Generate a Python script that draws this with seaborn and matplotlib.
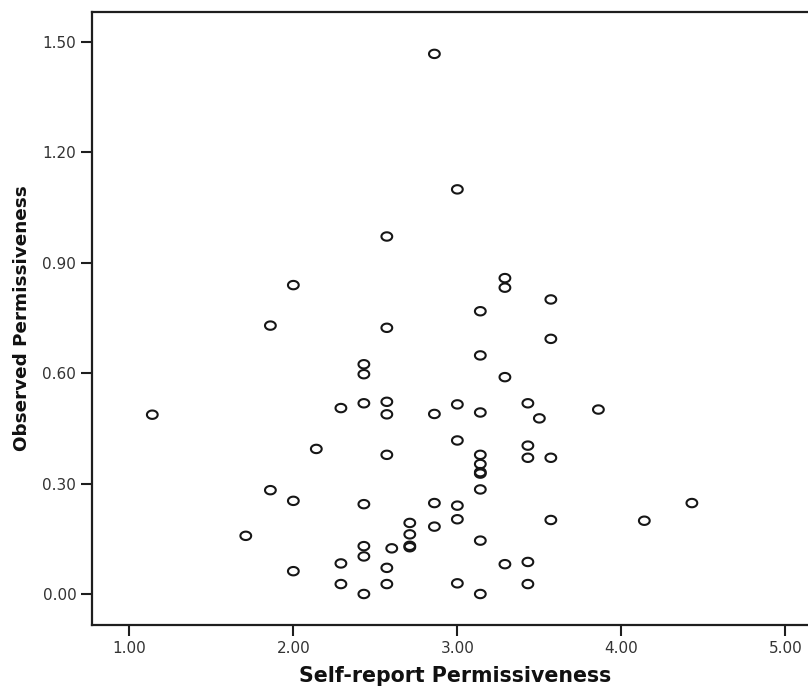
import numpy as np
import pandas as pd
import matplotlib
matplotlib.use("Agg")
import matplotlib.pyplot as plt
from matplotlib.path import Path
from matplotlib.ticker import FormatStrFormatter
import seaborn as sns

# Self-report vs observed permissiveness, one point per respondent
self_report = [
    2.86, 3.00, 2.57, 3.29, 3.29, 2.00, 3.57, 3.14, 1.86, 2.57,
    3.57, 3.14, 2.43, 2.43, 3.29, 1.14, 2.29, 2.43, 2.57, 2.57,
    2.86, 3.00, 3.14, 3.43, 3.50, 3.86, 2.14, 2.57, 3.00, 3.14,
    3.14, 3.14, 3.14, 3.14, 3.43, 3.43, 3.57, 1.86, 2.00, 2.43,
    2.86, 3.00, 3.00, 2.86, 2.71, 2.71, 2.71, 2.71, 2.60, 2.43,
    2.43, 3.57, 4.14, 4.43, 3.14, 1.71, 2.00, 2.29, 2.29, 2.43,
    2.57, 2.57, 3.00, 3.14, 3.29, 3.43, 3.43,
]
observed = [
    1.467, 1.099, 0.971, 0.858, 0.832, 0.839, 0.800, 0.768, 0.729, 0.723,
    0.693, 0.648, 0.624, 0.597, 0.589, 0.487, 0.505, 0.518, 0.522, 0.488,
    0.489, 0.515, 0.493, 0.518, 0.477, 0.501, 0.394, 0.378, 0.417, 0.378,
    0.353, 0.331, 0.327, 0.284, 0.403, 0.370, 0.370, 0.282, 0.253, 0.244,
    0.247, 0.240, 0.203, 0.183, 0.193, 0.162, 0.131, 0.127, 0.124, 0.130,
    0.102, 0.201, 0.199, 0.247, 0.145, 0.158, 0.062, 0.083, 0.027, 0.000,
    0.071, 0.027, 0.029, 0.000, 0.081, 0.087, 0.027,
]
x_ticks = [1.0, 2.0, 3.0, 4.0, 5.0]
y_ticks = [0.0, 0.3, 0.6, 0.9, 1.2, 1.5]

df = pd.DataFrame({"Self-report Permissiveness": self_report,
                   "Observed Permissiveness": observed})

sns.set_style("ticks")
plt.rcParams["font.family"] = ["DejaVu Sans"]

fig = plt.figure(figsize=(8.08, 6.86), dpi=100)
ax = fig.add_axes([0.1142, 0.0885, 0.8858, 0.8944])

# slightly flattened open ring marker
t = np.linspace(0, 2 * np.pi, 60)
ring = Path(np.column_stack([np.cos(t), 0.78 * np.sin(t)]), closed=True)

sns.scatterplot(data=df, x="Self-report Permissiveness", y="Observed Permissiveness",
                marker=ring, s=60, facecolor="none", edgecolor="#161616",
                linewidth=1.5, ax=ax, zorder=3)

ax.set_xlim(0.774, 5.138)
ax.set_ylim(-0.085, 1.5815)
ax.set_xticks(x_ticks)
ax.set_yticks(y_ticks)
ax.xaxis.set_major_formatter(FormatStrFormatter("%.2f"))
ax.yaxis.set_major_formatter(FormatStrFormatter("%.2f"))

for side in ["left", "bottom", "top"]:
    ax.spines[side].set_color("#1e1e1e")
    ax.spines[side].set_linewidth(1.6)
ax.spines["right"].set_visible(False)

ax.tick_params(axis="both", direction="out", length=8, width=1.5,
               color="#1e1e1e", labelsize=11, labelcolor="#333333", pad=3.5)

ax.set_xlabel("Self-report Permissiveness", fontsize=14.8, fontweight="bold",
              color="#111111")
ax.set_ylabel("Observed Permissiveness", fontsize=13.2, fontweight="bold",
              color="#111111")
ax.xaxis.label.set_va("center")
ax.yaxis.label.set_va("center")
ax.xaxis.set_label_coords(0.5075, -0.082)
ax.yaxis.set_label_coords(-0.0988, 0.5008)

fig.savefig("out.png", dpi=100, facecolor="white")
